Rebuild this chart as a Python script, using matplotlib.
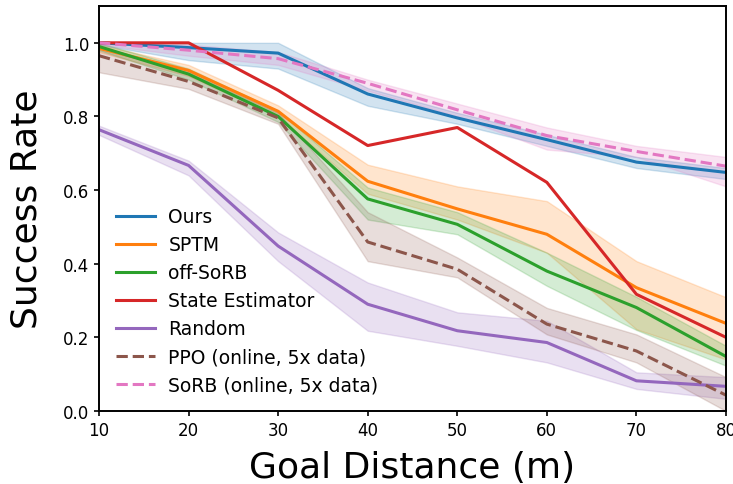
import matplotlib
matplotlib.use('Agg')
import matplotlib.pyplot as plt
import numpy as np

# === data ===
dist = [10, 20, 30, 40, 50, 60, 70, 80]

ours = [1.0, 0.987, 0.972, 0.861, 0.796, 0.737, 0.676, 0.648]
ours_lo = [0.995, 0.953, 0.93, 0.829, 0.78, 0.72, 0.66, 0.63]
ours_hi = [1.0, 1.0, 1.0, 0.877, 0.81, 0.75, 0.69, 0.66]

sptm = [0.985, 0.925, 0.814, 0.624, 0.549, 0.48, 0.335, 0.238]
sptm_lo = [0.975, 0.91, 0.80, 0.59, 0.52, 0.43, 0.222, 0.14]
sptm_hi = [0.995, 0.94, 0.83, 0.669, 0.61, 0.57, 0.407, 0.309]

off_sorb = [0.99, 0.915, 0.80, 0.576, 0.507, 0.38, 0.281, 0.148]
off_sorb_lo = [0.98, 0.90, 0.785, 0.52, 0.48, 0.34, 0.22, 0.123]
off_sorb_hi = [1.0, 0.93, 0.815, 0.607, 0.54, 0.43, 0.31, 0.177]

state_est = [1.0, 1.0, 0.871, 0.721, 0.77, 0.621, 0.317, 0.2]

rand = [0.764, 0.667, 0.448, 0.29, 0.218, 0.186, 0.082, 0.067]
rand_lo = [0.75, 0.64, 0.407, 0.218, 0.177, 0.132, 0.06, 0.033]
rand_hi = [0.775, 0.68, 0.485, 0.349, 0.268, 0.245, 0.105, 0.092]

ppo = [0.965, 0.895, 0.796, 0.459, 0.385, 0.236, 0.163, 0.043]
ppo_lo = [0.92, 0.875, 0.78, 0.407, 0.363, 0.208, 0.132, 0.0]
ppo_hi = [0.99, 0.92, 0.81, 0.54, 0.417, 0.28, 0.208, 0.092]

sorb = [1.0, 0.98, 0.957, 0.89, 0.818, 0.748, 0.705, 0.665]
sorb_lo = [0.995, 0.965, 0.94, 0.87, 0.80, 0.71, 0.69, 0.61]
sorb_hi = [1.0, 0.995, 0.975, 0.90, 0.835, 0.77, 0.72, 0.69]

fig = plt.figure(figsize=(7.33, 4.85), dpi=100)
ax = fig.add_axes([99 / 733, 73 / 485, 627 / 733, 405 / 485])

series = [
    ('Ours', ours, ours_lo, ours_hi, 'tab:blue', '-'),
    ('SPTM', sptm, sptm_lo, sptm_hi, 'tab:orange', '-'),
    ('off-SoRB', off_sorb, off_sorb_lo, off_sorb_hi, 'tab:green', '-'),
    ('State Estimator', state_est, None, None, 'tab:red', '-'),
    ('Random', rand, rand_lo, rand_hi, 'tab:purple', '-'),
    ('PPO (online, 5x data)', ppo, ppo_lo, ppo_hi, 'tab:brown', '--'),
    ('SoRB (online, 5x data)', sorb, sorb_lo, sorb_hi, 'tab:pink', '--'),
]

for name, y, lo, hi, c, ls in series:
    ax.plot(dist, y, ls, color=c, linewidth=2.2, label=name)
    if lo is not None:
        ax.fill_between(dist, lo, hi, color=c, alpha=0.2)

ax.set_xlim(10, 80)
ax.set_ylim(0, 1.1)
ax.set_xticks(dist)
ax.set_yticks([0.0, 0.2, 0.4, 0.6, 0.8, 1.0])
ax.tick_params(labelsize=12, width=1.2)
for s in ax.spines.values():
    s.set_linewidth(1.4)
ax.set_xlabel('Goal Distance (m)', fontsize=26, labelpad=8)
ax.set_ylabel('Success Rate', fontsize=26, labelpad=14)
ax.legend(loc='lower left', fontsize=13.5, frameon=False, labelspacing=0.48,
          handlelength=2.1, handletextpad=0.7, borderaxespad=0.5)

plt.savefig('out.png', dpi=100)
plt.close()
